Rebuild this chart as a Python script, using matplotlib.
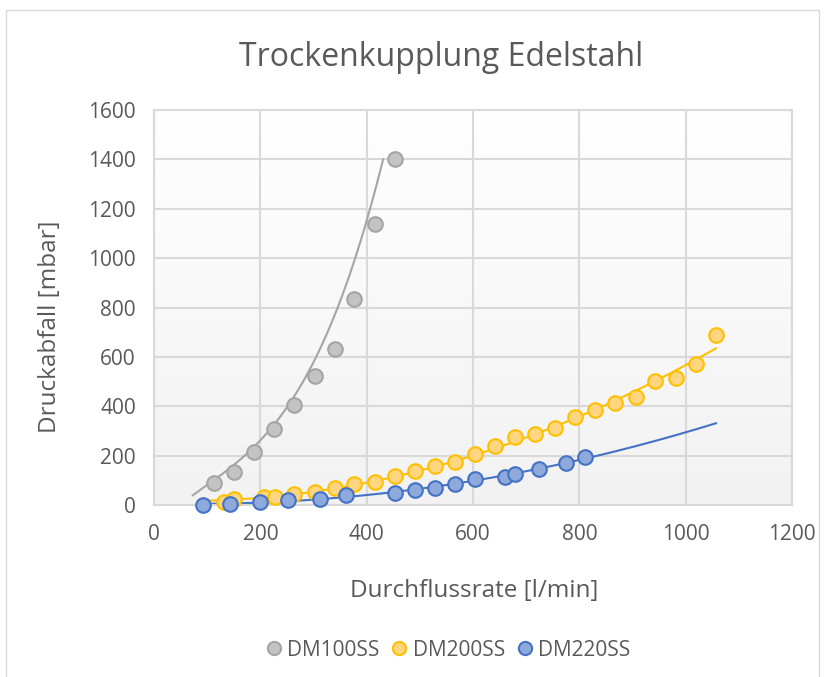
import numpy as np
import matplotlib
matplotlib.use("Agg")
import matplotlib.pyplot as plt
from matplotlib.patches import Rectangle
from matplotlib.lines import Line2D
from matplotlib.colors import LinearSegmentedColormap

plt.rcParams['font.family'] = ['Open Sans', 'DejaVu Sans']

# ---- data ----
dm100_x = [113, 151, 189, 226, 264, 302, 340, 377, 415, 453]
dm100_y = [88, 135, 213, 309, 405, 522, 633, 834, 1139, 1401]

dm200_x = [131, 150, 206, 227, 264, 302, 340, 377, 415, 453, 491, 528, 566, 604,
           642, 679, 717, 755, 792, 830, 868, 906, 943, 981, 1019, 1057]
dm200_y = [13, 23, 31, 34, 43, 54, 67, 84, 94, 117, 138, 159, 173, 205,
           240, 275, 289, 310, 358, 385, 412, 439, 502, 515, 572, 690]

dm220_x = [93, 143, 200, 252, 313, 362, 453, 491, 528, 566, 604, 660, 679, 725, 774, 811]
dm220_y = [0, 4, 13, 20, 24, 40, 50, 61, 70, 85, 104, 115, 126, 146, 171, 193]

dm100_trend_x = [73, 107, 143, 181, 219, 253, 283, 310, 354, 401, 431]
dm100_trend_y = [50, 80, 142, 223, 309, 405, 522, 633, 834, 1139, 1417]
dm200_trend_range = [95, 1057]
dm220_trend_range = [95, 1057]

series_names = ["DM100SS", "DM200SS", "DM220SS"]
x_ticks = [0, 200, 400, 600, 800, 1000, 1200]
y_ticks = [0, 200, 400, 600, 800, 1000, 1200, 1400, 1600]

title = "Trockenkupplung Edelstahl"
x_label = "Durchflussrate [l/min]"
y_label = "Druckabfall [mbar]"

# ---- styles ----
fills = ['#C3C3C3', '#FFD580', '#8EA9DB']
edges = ['#A5A5A5', '#FFC000', '#4472C4']
txt = '#595959'
grid_c = '#D9D9D9'

W, H = 829, 677
fig = plt.figure(figsize=(W / 100, H / 100), dpi=100)
fig.patches.append(Rectangle((6 / W, -0.02), (819 - 6) / W, (H - 10) / H + 0.02,
                             transform=fig.transFigure, fill=False,
                             edgecolor='#D9D9D9', lw=1.0))

ax = fig.add_axes([154 / W, 1 - 505 / H, (792 - 154) / W, (505 - 110) / H])

# gradient background
grad = np.linspace(0, 1, 256).reshape(-1, 1)
cmap = LinearSegmentedColormap.from_list('bg', ['#FFFFFF', '#F2F2F2'])
ax.imshow(grad, extent=[0, 1, 0, 1], transform=ax.transAxes, aspect='auto',
          cmap=cmap, zorder=0, origin='upper')

ax.set_xlim(0, 1200)
ax.set_ylim(0, 1600)
ax.set_xticks(x_ticks)
ax.set_yticks(y_ticks)
ax.grid(True, color=grid_c, lw=1.5, zorder=1)
ax.set_axisbelow(True)
for s in ax.spines.values():
    s.set_color(grid_c)
    s.set_linewidth(1.5)
ax.tick_params(length=0, labelsize=15, labelcolor=txt)
ax.tick_params(axis='x', pad=14)
ax.tick_params(axis='y', pad=13)

# trendlines
c100 = np.polyfit(dm100_trend_x, dm100_trend_y, 3)
t = np.linspace(dm100_trend_x[0], dm100_trend_x[-1], 200)
ax.plot(t, np.polyval(c100, t), color=edges[0], lw=1.5, zorder=2)

c200 = np.polyfit(dm200_x, dm200_y, 2)
t = np.linspace(*dm200_trend_range, 200)
ax.plot(t, np.polyval(c200, t), color=edges[1], lw=1.5, zorder=2)

c220 = np.polyfit(dm220_x, dm220_y, 2)
t = np.linspace(*dm220_trend_range, 200)
ax.plot(t, np.polyval(c220, t), color=edges[2], lw=1.5, zorder=2)

# points
for xs, ys, fc, ec in zip([dm100_x, dm200_x, dm220_x], [dm100_y, dm200_y, dm220_y], fills, edges):
    ax.plot(xs, ys, linestyle='none', marker='o', markersize=10.5,
            markerfacecolor=fc, markeredgecolor=ec, markeredgewidth=1.5,
            zorder=3, clip_on=False)

fig.text(441 / W, 1 - 58 / H, title, ha='center', va='center', fontsize=23, color=txt)
fig.text(474 / W, 1 - 591 / H, x_label, ha='center', va='center', fontsize=17.5, color=txt)
fig.text(50 / W, 1 - 327 / H, y_label, ha='center', va='center', fontsize=17.5,
         color=txt, rotation=90)

handles = [Line2D([], [], linestyle='none', marker='o', markersize=9.5,
                  markerfacecolor=fc, markeredgecolor=ec, markeredgewidth=1.5)
           for fc, ec in zip(fills, edges)]
leg = fig.legend(handles, series_names, loc='center', bbox_to_anchor=(447 / W, 1 - 650 / H),
                 ncol=3, frameon=False, fontsize=15, handletextpad=0.15,
                 columnspacing=0.45, handlelength=1.0, labelcolor=txt)

fig.savefig('out.png', dpi=100)
